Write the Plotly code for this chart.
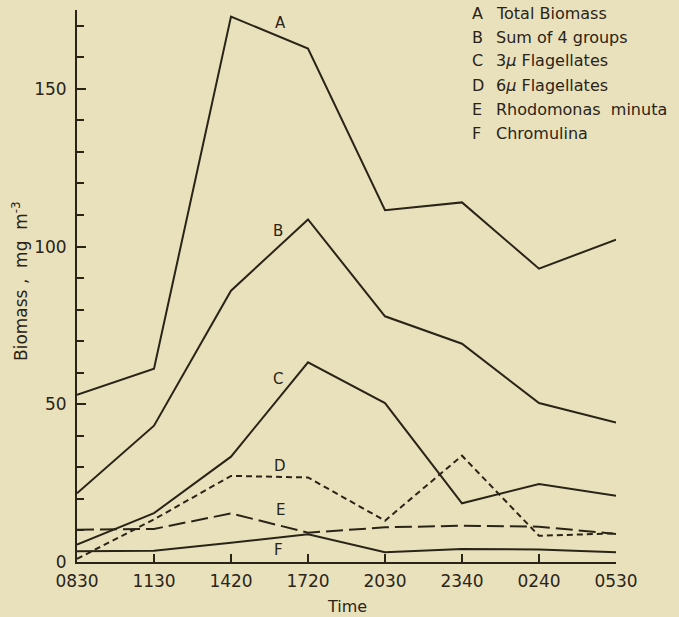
import plotly.graph_objects as go

times = ["0830", "1130", "1420", "1720", "2030", "2340", "0240", "0530"]
total_biomass = [53, 61.3, 172.9, 162.8, 111.5, 114, 93, 102.2]
sum_of_4 = [21.8, 43.2, 86, 108.6, 77.9, 69.2, 50.4, 44.2]
flag_3u = [5.5, 15.5, 33.4, 63.3, 50.4, 18.6, 24.7, 21]
flag_6u = [1, 13.5, 27.3, 26.8, 13.1, 33.7, 8.3, 9.1]
rhodomonas = [10.2, 10.5, 15.4, 9.3, 11, 11.5, 11.2, 8.9]
chromulina = [3.4, 3.6, 6.1, 8.8, 3.1, 4.1, 4.0, 3.1]

series_letters = ["A", "B", "C", "D", "E", "F"]
series_names = ["Total Biomass", "Sum of 4 groups", "3<i>\u03bc</i> Flagellates",
                "6<i>\u03bc</i> Flagellates", "Rhodomonas  minuta", "Chromulina"]
label_x = [2.64, 2.61, 2.61, 2.64, 2.64, 2.62]
label_y = [171, 105, 58, 30.5, 16.5, 3.8]

ink = "#2a2418"
bg = "#e9e1bc"
font = "DejaVu Sans"

xs = list(range(len(times)))
series = [total_biomass, sum_of_4, flag_3u, flag_6u, rhodomonas, chromulina]
dashes = ["solid", "solid", "solid", "6px,4px", "17px,6px", "solid"]

fig = go.Figure()
for vals, d in zip(series, dashes):
    fig.add_trace(go.Scatter(x=xs, y=vals, mode="lines",
                             line=dict(color=ink, width=2, dash=d),
                             showlegend=False, hoverinfo="skip"))

L, R, T, B = 77, 63, 10, 55
W, H = 679, 617
pw, ph = W - L - R, H - T - B

ann = []
for lt, lx, ly in zip(series_letters, label_x, label_y):
    ann.append(dict(x=lx, y=ly, xref="x", yref="y", text=lt, showarrow=False,
                    font=dict(family=font, size=15, color=ink)))

leg_y = [13, 37, 61, 85, 109, 133]
for lt, nm, py in zip(series_letters, series_names, leg_y):
    yp = (H - B - py) / ph
    ann.append(dict(x=(470 - L) / pw, y=yp, xref="paper", yref="paper", text=lt,
                    xanchor="left", yanchor="middle", showarrow=False,
                    font=dict(family=font, size=16, color=ink)))
    ann.append(dict(x=(494 - L) / pw, y=yp, xref="paper", yref="paper", text=nm,
                    xanchor="left", yanchor="middle", showarrow=False,
                    font=dict(family=font, size=16, color=ink)))

ann.append(dict(x=(20 - L) / pw, y=(H - B - 281) / ph, xref="paper", yref="paper",
                text="Biomass ,  mg  m<sup>-3</sup>", textangle=-90, showarrow=False,
                xanchor="center", yanchor="middle",
                font=dict(family=font, size=17, color=ink)))
ann.append(dict(x=(347 - L) / pw, y=(H - B - 606) / ph, xref="paper", yref="paper",
                text="Time", showarrow=False, xanchor="center", yanchor="middle",
                font=dict(family=font, size=16, color=ink)))

fig.update_layout(
    width=W, height=H,
    margin=dict(l=L, r=R, t=T, b=B),
    paper_bgcolor=bg, plot_bgcolor=bg,
    annotations=ann,
    xaxis=dict(range=[0, 7], tickvals=xs, ticktext=times, showgrid=False,
               zeroline=False, showline=True, linecolor=ink, linewidth=2,
               ticks="inside", ticklen=8, tickwidth=2, tickcolor=ink,
               ticklabelstandoff=3,
               tickfont=dict(family=font, size=17, color=ink)),
    yaxis=dict(range=[0, 175], tickvals=[0, 50, 100, 150], showgrid=False,
               zeroline=False, showline=True, linecolor=ink, linewidth=2,
               ticks="inside", ticklen=9, tickwidth=2, tickcolor=ink,
               minor=dict(dtick=10, tick0=0, ticks="inside", ticklen=7,
                          tickwidth=2, tickcolor=ink, showgrid=False),
               ticklabelstandoff=5,
               tickfont=dict(family=font, size=17, color=ink)),
)

fig.write_html("out.html", config={"displayModeBar": False},
               post_script="document.body.style.margin='0';document.body.style.padding='0';document.body.style.overflow='hidden';")
